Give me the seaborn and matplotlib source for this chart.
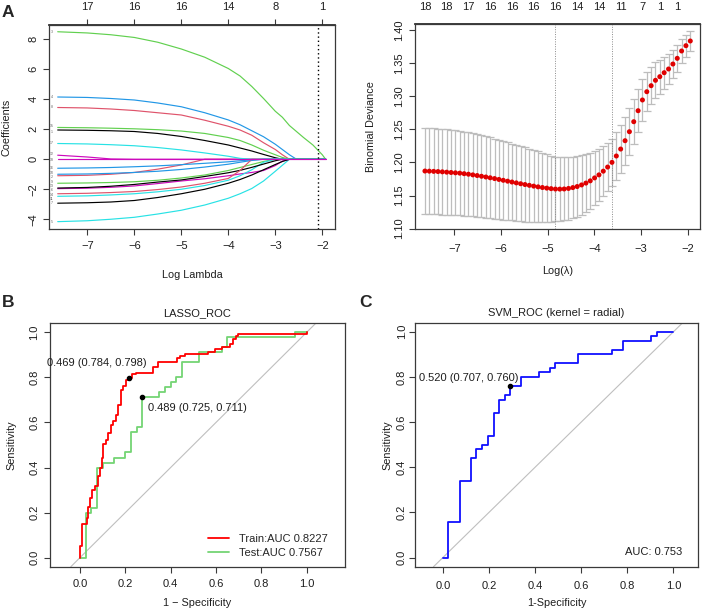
import matplotlib
matplotlib.use("Agg")
import matplotlib.pyplot as plt
import seaborn as sns

sns.set_theme(style="ticks")
plt.rcParams["font.family"] = ["Liberation Sans", "DejaVu Sans"]

# ---------------- panel A (left): lasso coefficient paths ----------------
lam_grid = [-7.63, -7.0, -6.5, -6.0, -5.5, -5.0, -4.5, -4.0, -3.75, -3.5,
            -3.25, -3.0, -2.85, -2.7, -2.55, -2.4, -2.2, -2.0, -1.93]
coef_1 = [1.95, 1.93, 1.90, 1.85, 1.72, 1.52, 1.25, 0.95, 0.75, 0.55, 0.32, 0.10, 0, 0, 0, 0, 0, 0, 0]
coef_2 = [-1.10, -1.07, -1.00, -0.88, -0.66, -0.38, 0, 0, 0, 0, 0, 0, 0, 0, 0, 0, 0, 0, 0]
coef_3 = [8.50, 8.42, 8.30, 8.12, 7.80, 7.35, 6.80, 6.05, 5.55, 4.85, 4.05, 3.20, 2.80, 2.25, 1.85, 1.45, 0.95, 0.30, 0]
coef_4 = [4.15, 4.12, 4.05, 3.95, 3.75, 3.50, 3.10, 2.62, 2.30, 1.90, 1.50, 1.00, 0.65, 0.30, 0, 0, 0, 0, 0]
coef_5 = [-4.16, -4.10, -4.00, -3.87, -3.65, -3.40, -3.05, -2.60, -2.30, -1.95, -1.45, -0.80, -0.40, 0, 0, 0, 0, 0, 0]
coef_6 = [-1.96, -1.93, -1.87, -1.78, -1.62, -1.45, -1.30, -1.10, -0.98, -0.88, -0.75, -0.42, -0.12, 0, 0, 0, 0, 0, 0]
coef_7 = [-2.93, -2.90, -2.85, -2.75, -2.55, -2.30, -2.00, -1.60, -1.35, -1.05, -0.70, -0.35, -0.15, 0, 0, 0, 0, 0, 0]
coef_8 = [3.45, 3.42, 3.35, 3.25, 3.10, 2.95, 2.60, 2.20, 1.95, 1.60, 1.10, 0.65, 0.30, 0, 0, 0, 0, 0, 0]
coef_9 = [-1.60, -1.58, -1.55, -1.50, -1.40, -1.25, -1.05, -0.75, -0.55, -0.35, -0.15, 0, 0, 0, 0, 0, 0, 0, 0]
coef_10 = [-1.00, -0.98, -0.94, -0.88, -0.80, -0.68, -0.52, -0.33, -0.20, -0.08, 0, 0, 0, 0, 0, 0, 0, 0, 0]
coef_11 = [-2.47, -2.44, -2.38, -2.30, -2.17, -2.00, -1.75, -1.40, -1.10, -0.70, -0.20, 0, 0, 0, 0, 0, 0, 0, 0]
coef_12 = [0.27, 0.15, 0.02, 0, 0, 0, 0, 0, 0, 0, 0, 0, 0, 0, 0, 0, 0, 0, 0]
coef_13 = [-1.92, -1.88, -1.80, -1.68, -1.52, -1.38, -1.15, -0.90, -0.74, -0.54, -0.32, -0.10, 0, 0, 0, 0, 0, 0, 0]
coef_14 = [-2.30, -2.27, -2.22, -2.15, -2.02, -1.85, -1.60, -1.28, -0.75, 0, 0, 0, 0, 0, 0, 0, 0, 0, 0]
coef_15 = [2.12, 2.10, 2.07, 2.03, 1.97, 1.88, 1.72, 1.45, 1.25, 0.95, 0.60, 0.30, 0.12, 0, 0, 0, 0, 0, 0]
coef_16 = [-0.60, -0.58, -0.55, -0.50, -0.44, -0.36, -0.27, -0.17, -0.10, -0.04, 0, 0, 0, 0, 0, 0, 0, 0, 0]
coef_17 = [1.05, 1.02, 0.97, 0.90, 0.78, 0.62, 0.42, 0.20, 0.06, 0, 0, 0, 0, 0, 0, 0, 0, 0, 0]
coef_18 = [0] * 19
coef_paths = [coef_1, coef_2, coef_3, coef_4, coef_5, coef_6, coef_7, coef_8, coef_9,
              coef_10, coef_11, coef_12, coef_13, coef_14, coef_15, coef_16, coef_17, coef_18]
coef_top_pos = [-7, -6, -5, -4, -3, -2]
coef_top_nz = ["17", "16", "16", "14", "8", "1"]
coef_cut = -2.1

# ---------------- panel A (right): cross-validation curve ----------------
cv_lambda = [-7.627, -7.534, -7.441, -7.348, -7.255, -7.162, -7.068, -6.975, -6.882, -6.789,
             -6.696, -6.603, -6.510, -6.417, -6.324, -6.231, -6.137, -6.044, -5.951, -5.858,
             -5.765, -5.672, -5.579, -5.486, -5.393, -5.300, -5.206, -5.113, -5.020, -4.927,
             -4.834, -4.741, -4.648, -4.555, -4.462, -4.369, -4.275, -4.182, -4.089, -3.996,
             -3.903, -3.810, -3.717, -3.624, -3.531, -3.438, -3.344, -3.251, -3.158, -3.065,
             -2.972, -2.879, -2.786, -2.693, -2.600, -2.507, -2.413, -2.320, -2.227, -2.134,
             -2.041, -1.948]
cv_mean = [1.1870, 1.1868, 1.1865, 1.1862, 1.1858, 1.1853, 1.1848, 1.1843, 1.1838, 1.1830,
           1.1822, 1.1812, 1.1802, 1.1791, 1.1780, 1.1768, 1.1756, 1.1743, 1.1730, 1.1717,
           1.1704, 1.1691, 1.1678, 1.1666, 1.1654, 1.1642, 1.1631, 1.1621, 1.1612, 1.1604,
           1.1598, 1.1597, 1.1599, 1.1607, 1.1620, 1.1636, 1.1660, 1.1688, 1.1722, 1.1766,
           1.1812, 1.1868, 1.1930, 1.2001, 1.2097, 1.2202, 1.2328, 1.2464, 1.2615, 1.2781,
           1.2943, 1.3068, 1.3159, 1.3240, 1.3295, 1.3355, 1.3411, 1.3486, 1.3572, 1.3683,
           1.3763, 1.3834]
cv_se = [0.0650, 0.0650, 0.0649, 0.0648, 0.0647, 0.0645, 0.0643, 0.0641, 0.0639, 0.0636,
         0.0632, 0.0628, 0.0624, 0.0620, 0.0615, 0.0610, 0.0604, 0.0598, 0.0592, 0.0586,
         0.0580, 0.0574, 0.0567, 0.0560, 0.0552, 0.0543, 0.0534, 0.0524, 0.0512, 0.0500,
         0.0490, 0.0482, 0.0476, 0.0470, 0.0465, 0.0459, 0.0450, 0.0438, 0.0422, 0.0405,
         0.0390, 0.0375, 0.0360, 0.0352, 0.0355, 0.0362, 0.0360, 0.0352, 0.0340, 0.0325,
         0.0310, 0.0296, 0.0283, 0.0270, 0.0257, 0.0244, 0.0230, 0.0216, 0.0200, 0.0182,
         0.0164, 0.0145]
cv_top_pos = [-7.627, -7.162, -6.696, -6.231, -5.765, -5.300, -4.834, -4.369, -3.903,
              -3.438, -2.972, -2.600, -2.227]
cv_top_nz = [18, 18, 17, 16, 16, 16, 16, 14, 14, 11, 7, 1, 1]
lam_min = -4.834
lam_1se = -3.624

# ---------------- panel B: LASSO ROC (vertical jumps: fpr, tpr after jump) ----------------
train_fpr = [0.000, 0.010, 0.029, 0.037, 0.044, 0.054, 0.066, 0.078, 0.088, 0.096, 0.103, 0.113,
             0.125, 0.137, 0.147, 0.157, 0.169, 0.181, 0.191, 0.201, 0.216, 0.231, 0.246, 0.324,
             0.343, 0.426, 0.441, 0.463, 0.566, 0.596, 0.625, 0.662, 0.673, 0.688, 0.699, 1.000]
train_tpr = [0.052, 0.148, 0.177, 0.224, 0.266, 0.302, 0.317, 0.361, 0.398, 0.442, 0.504, 0.524,
             0.553, 0.590, 0.605, 0.634, 0.678, 0.745, 0.760, 0.789, 0.798, 0.814, 0.821, 0.848,
             0.867, 0.885, 0.895, 0.903, 0.914, 0.925, 0.933, 0.948, 0.972, 0.982, 0.993, 1.000]
test_fpr = [0.025, 0.050, 0.075, 0.100, 0.150, 0.200, 0.225, 0.250, 0.275, 0.350, 0.375,
            0.400, 0.425, 0.450, 0.525, 0.625, 0.650, 0.950, 1.000]
test_tpr = [0.200, 0.222, 0.400, 0.422, 0.444, 0.467, 0.556, 0.578, 0.711, 0.733, 0.756,
            0.778, 0.800, 0.867, 0.911, 0.933, 0.978, 1.000, 1.000]
train_best = (0.216, 0.798)
test_best = (0.275, 0.711)
train_best_txt = "0.469 (0.784, 0.798)"
test_best_txt = "0.489 (0.725, 0.711)"

# ---------------- panel C: SVM ROC ----------------
svm_fpr = [0.024, 0.073, 0.122, 0.146, 0.171, 0.195, 0.220, 0.244, 0.268, 0.293, 0.341,
           0.415, 0.463, 0.488, 0.585, 0.732, 0.780, 0.902, 0.927, 1.000]
svm_tpr = [0.16, 0.34, 0.44, 0.48, 0.50, 0.54, 0.64, 0.70, 0.72, 0.76, 0.80,
           0.82, 0.84, 0.86, 0.90, 0.92, 0.96, 0.98, 1.00, 1.00]
svm_best = (0.293, 0.760)
svm_best_txt = "0.520 (0.707, 0.760)"

r_cols = ["#000000", "#DF536B", "#61D04F", "#2297E6", "#28E2E5", "#CD0BBC"]
# small vertical nudges so the tiny path labels do not sit on top of each other
label_nudge = {1: -0.12, 15: 0.12, 2: -0.1, 10: 0.1, 9: 0.10, 13: 0.13, 6: -0.11,
               14: -0.05, 11: -0.16, 12: 0.08, 18: -0.08}
TXT = "#1e1e1e"
W, H = 702, 610

fig = plt.figure(figsize=(W / 100, H / 100), dpi=100)


def px_axes(l, t, r, b):
    return fig.add_axes([l / W, 1 - b / H, (r - l) / W, (b - t) / H])


def r_box(ax, xpad, ypad):
    for s in ax.spines.values():
        s.set_visible(True)
        s.set_color("#3a3a3a")
        s.set_linewidth(0.9)
    ax.tick_params(direction="out", length=4, width=0.8, color="#3a3a3a",
                   labelsize=8, labelcolor=TXT)
    ax.tick_params(axis="x", pad=xpad)
    ax.tick_params(axis="y", pad=ypad, labelrotation=90)
    plt.setp(ax.get_yticklabels(), va="center")
    ax.grid(False)


def labels(ax, xl, yl, xpos, ypos):
    ax.set_xlabel(xl, fontsize=7.8, color=TXT, va="center")
    ax.set_ylabel(yl, fontsize=7.8, color=TXT, va="center")
    ax.xaxis.set_label_coords(0.5, xpos)
    ax.yaxis.set_label_coords(ypos, 0.5)


def roc_path(jx, jy):
    xs, ys = [0.0], [0.0]
    for x, y in zip(jx, jy):
        xs += [x, x]
        ys += [ys[-1], y]
    return xs, ys


# ---- A left ----
ax = px_axes(49, 25, 335, 229)
for i, row in enumerate(coef_paths):
    sns.lineplot(x=lam_grid, y=row, color=r_cols[i % 6], linewidth=0.85,
                 estimator=None, sort=False, ax=ax)
    ax.text(-7.76, row[0] + label_nudge.get(i + 1, 0), str(i + 1), fontsize=2.6,
            color="#666666", ha="center", va="center")
ax.axvline(coef_cut, color="black", lw=1.0, ls=(0, (1, 2)))
ax.set_xlim(-7.815, -1.73)
ax.set_ylim(-4.65, 8.95)
ax.set_xticks(range(-7, -1))
ax.set_yticks([-4, -2, 0, 2, 4, 6, 8])
r_box(ax, 4.6, 3.7)
labels(ax, "Log Lambda", "Coefficients", -0.2255, -0.150)
top = ax.secondary_xaxis("top")
top.set_xticks(coef_top_pos, labels=coef_top_nz)
top.tick_params(direction="out", length=4, width=0.8, color="#3a3a3a", labelsize=8,
                labelcolor=TXT, pad=5.1)

# ---- A right ----
ax = px_axes(415, 24.3, 700, 229.3)
ax.errorbar(cv_lambda, cv_mean, yerr=cv_se, fmt="none", ecolor="#BDBDBD",
            elinewidth=0.9, capsize=2.6, capthick=0.9, zorder=1)
ax.axvline(lam_min, color="#8a8a8a", lw=0.7, ls=(0, (1, 1.5)), zorder=2)
ax.axvline(lam_1se, color="#8a8a8a", lw=0.7, ls=(0, (1, 1.5)), zorder=2)
sns.scatterplot(x=cv_lambda, y=cv_mean, color="#E00000", s=13, edgecolor="none",
                ax=ax, zorder=3)
ax.set_xlim(-7.84, -1.74)
ax.set_ylim(1.099, 1.4086)
ax.set_xticks(range(-7, -1))
yt = [1.10, 1.15, 1.20, 1.25, 1.30, 1.35, 1.40]
ax.set_yticks(yt, labels=[f"{v:.2f}" for v in yt])
r_box(ax, 6.8, 3.9)
labels(ax, "Log(\u03bb)", "Binomial Deviance", -0.2015, -0.154)
top = ax.secondary_xaxis("top")
top.set_xticks(cv_top_pos, labels=[str(n) for n in cv_top_nz])
top.tick_params(length=0, labelsize=8, labelcolor=TXT, pad=9.0)

# ---- B ----
ax = px_axes(50, 323.3, 345, 566.7)
ax.axline((0, 0), (1, 1), color="#BFBFBF", lw=0.8, zorder=1)
tx, ty = roc_path(train_fpr, train_tpr)
vx, vy = roc_path(test_fpr, test_tpr)
sns.lineplot(x=tx, y=ty, color="#FF0000", linewidth=1.3, estimator=None, sort=False,
             ax=ax, label="Train:AUC 0.8227", zorder=3)
sns.lineplot(x=vx, y=vy, color="#74D474", linewidth=1.3, estimator=None, sort=False,
             ax=ax, label="Test:AUC 0.7567", zorder=2)
ax.scatter(*train_best, s=9, color="black", zorder=4)
ax.scatter(*test_best, s=9, color="black", zorder=4)
ax.annotate(train_best_txt, xy=train_best, xytext=(12.7, 10.9), textcoords="offset points",
            ha="right", va="center", fontsize=8, color=TXT)
ax.annotate(test_best_txt, xy=test_best, xytext=(3.9, -7.7), textcoords="offset points",
            ha="left", va="center", fontsize=8, color=TXT)
ax.set_xlim(-0.132, 1.169)
ax.set_ylim(-0.04, 1.04)
tk = [0.0, 0.2, 0.4, 0.6, 0.8, 1.0]
ax.set_xticks(tk, labels=[f"{v:.1f}" for v in tk])
ax.set_yticks(tk, labels=[f"{v:.1f}" for v in tk])
r_box(ax, 5.1, 3.7)
labels(ax, "1 \u2212 Specificity", "Sensitivity", -0.148, -0.129)
ax.text(0.5, 1.042, "LASSO_ROC", transform=ax.transAxes, ha="center", va="center",
        fontsize=8, color=TXT)
ax.legend(loc="lower right", bbox_to_anchor=(0.972, 0.0), frameon=False, fontsize=8,
          handlelength=1.9, handletextpad=0.9, labelspacing=0.35, borderaxespad=0.4)

# ---- C ----
ax = px_axes(415.3, 322.7, 697.7, 566.7)
ax.axline((0, 0), (1, 1), color="#BFBFBF", lw=0.8, zorder=1)
sx, sy = roc_path(svm_fpr, svm_tpr)
sns.lineplot(x=sx, y=sy, color="#1010FF", linewidth=1.3, estimator=None, sort=False,
             ax=ax, zorder=3)
ax.scatter(*svm_best, s=9, color="black", zorder=4)
ax.annotate(svm_best_txt, xy=svm_best, xytext=(6.0, 5.8), textcoords="offset points",
            ha="right", va="center", fontsize=8, color=TXT)
ax.text(1.04, 0.025, "AUC: 0.753", ha="right", va="center", fontsize=8, color=TXT)
ax.set_xlim(-0.119, 1.105)
ax.set_ylim(-0.04, 1.04)
ax.set_xticks(tk, labels=[f"{v:.1f}" for v in tk])
ax.set_yticks(tk, labels=[f"{v:.1f}" for v in tk])
r_box(ax, 6.3, 2.2)
labels(ax, "1-Specificity", "Sensitivity", -0.150, -0.100)
ax.text(0.5, 1.040, "SVM_ROC (kernel = radial)", transform=ax.transAxes, ha="center",
        va="center", fontsize=8, color=TXT)

# panel letters
fig.text(8 / W, 1 - 12.5 / H, "A", fontsize=12.5, fontweight="bold", ha="center", va="center")
fig.text(8 / W, 1 - 302 / H, "B", fontsize=12.5, fontweight="bold", ha="center", va="center")
fig.text(365 / W, 1 - 302 / H, "C", fontsize=12.5, fontweight="bold", ha="center", va="center")

fig.savefig("out.png", dpi=100)
